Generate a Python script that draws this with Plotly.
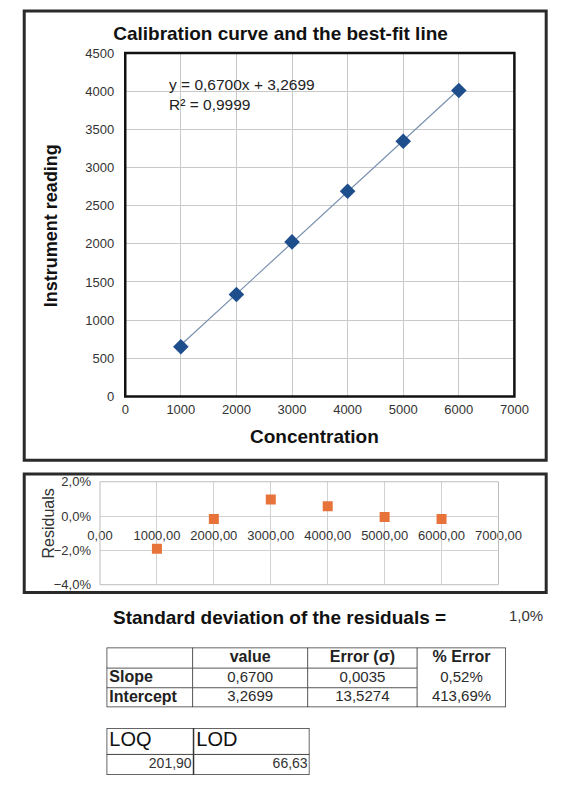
import plotly.graph_objects as go

# ---------------- data ----------------
concentration = [1000, 2000, 3000, 4000, 5000, 6000]
instrument_reading = [650, 1335, 2025, 2690, 3345, 4010]
residuals_pct = [-0.019, -0.0017, 0.0096, 0.0058, -0.0006, -0.0017]

fit_slope = 0.6700
fit_intercept = 3.2699
fit_r2 = 0.9999

param_names = ["Slope", "Intercept"]
param_values = ["0,6700", "3,2699"]
param_errors = ["0,0035", "13,5274"]
param_pct_errors = ["0,52%", "413,69%"]
table_headers = ["value", "Error (σ)", "% Error"]

limit_headers = ["LOQ", "LOD"]
limit_values = ["201,90", "66,63"]

residual_std_text = "1,0%"

W, H = 573, 785
FONT = "Liberation Sans, Arial, sans-serif"


def px_x(p):
    return p / W


def px_y(p):
    return 1 - p / H


fig = go.Figure()

# ---- main calibration scatter + trendline ----
line_x = [min(concentration), max(concentration)]
line_y = [fit_slope * v + fit_intercept for v in line_x]
fig.add_trace(go.Scatter(x=line_x, y=line_y, mode="lines",
                         line=dict(color="#7891ae", width=1.2),
                         xaxis="x", yaxis="y", showlegend=False, hoverinfo="skip"))
fig.add_trace(go.Scatter(x=concentration, y=instrument_reading, mode="markers",
                         marker=dict(symbol="diamond", size=12, color="#1F4E8C"),
                         xaxis="x", yaxis="y", showlegend=False))

# ---- residual plot ----
fig.add_trace(go.Scatter(x=concentration, y=residuals_pct, mode="markers",
                         marker=dict(symbol="square", size=10, color="#E8733A"),
                         xaxis="x2", yaxis="y2", showlegend=False))

# ---- parameter table (drawn on its own hidden axes, pixel-like units) ----
t1_cols = [0, 92, 215, 332, 427]
t1_rows = [0, 21, 41, 61]
col_centers = [(t1_cols[i] + t1_cols[i + 1]) / 2 for i in range(1, 4)]
row_centers = [(t1_rows[i] + t1_rows[i + 1]) / 2 for i in range(3)]

fig.add_trace(go.Scatter(
    x=col_centers, y=[row_centers[0]] * 3, mode="text",
    text=["<b>%s</b>" % h for h in table_headers], textposition="middle center",
    textfont=dict(family=FONT, size=16, color="#222"),
    xaxis="x3", yaxis="y3", showlegend=False, hoverinfo="skip", cliponaxis=False))
fig.add_trace(go.Scatter(
    x=[t1_cols[0] + 3] * 2, y=row_centers[1:], mode="text",
    text=["<b>%s</b>" % n for n in param_names], textposition="middle right",
    textfont=dict(family=FONT, size=16, color="#222"),
    xaxis="x3", yaxis="y3", showlegend=False, hoverinfo="skip", cliponaxis=False))
body_cols = [param_values, param_errors, param_pct_errors]
bx, by, bt = [], [], []
for ci, col in enumerate(body_cols):
    for ri, val in enumerate(col):
        bx.append(col_centers[ci])
        by.append(row_centers[ri + 1])
        bt.append(val)
fig.add_trace(go.Scatter(
    x=bx, y=by, mode="text", text=bt, textposition="middle center",
    textfont=dict(family=FONT, size=15, color="#2a2a2a"),
    xaxis="x3", yaxis="y3", showlegend=False, hoverinfo="skip", cliponaxis=False))

# ---- LOQ / LOD table ----
t2_cols = [0, 93, 217]
t2_rows = [0, 27, 48]
fig.add_trace(go.Scatter(
    x=[t2_cols[0] + 3, t2_cols[1] + 3], y=[(t2_rows[0] + t2_rows[1]) / 2] * 2,
    mode="text", text=limit_headers, textposition="middle right",
    textfont=dict(family=FONT, size=20, color="#111"),
    xaxis="x4", yaxis="y4", showlegend=False, hoverinfo="skip", cliponaxis=False))
fig.add_trace(go.Scatter(
    x=[t2_cols[1] - 2, t2_cols[2] - 2], y=[(t2_rows[1] + t2_rows[2]) / 2] * 2,
    mode="text", text=limit_values, textposition="middle left",
    textfont=dict(family=FONT, size=14, color="#333"),
    xaxis="x4", yaxis="y4", showlegend=False, hoverinfo="skip", cliponaxis=False))

grid_main = "#c9c9c9"
hidden = dict(visible=False, fixedrange=True)
fig.update_layout(
    width=W, height=H, autosize=False,
    margin=dict(l=0, r=0, t=0, b=0),
    paper_bgcolor="white", plot_bgcolor="white",
    separators=", ",
    font=dict(family=FONT, color="#222"),
    title=dict(text="<b>Calibration curve and the best-fit line</b>",
               x=px_x(286), y=px_y(27), xanchor="center", yanchor="middle",
               xref="paper", yref="paper",
               font=dict(family=FONT, size=19, color="#111")),
    xaxis=dict(domain=[px_x(120), px_x(536)], range=[0, 7000], dtick=1000,
               tickformat="d", showgrid=True, gridcolor=grid_main, zeroline=False,
               showline=False, tickfont=dict(size=13, color="#333"),
               ticklabelstandoff=4, fixedrange=True),
    yaxis=dict(domain=[px_y(397), px_y(47)], range=[0, 4500], dtick=500,
               tickformat="d", showgrid=True, gridcolor=grid_main, zeroline=False,
               showline=False, tickfont=dict(size=13, color="#333"),
               ticklabelstandoff=10, fixedrange=True),
    xaxis2=dict(domain=[px_x(93), px_x(519)], range=[0, 7000], dtick=1000,
                tickformat=".2f", anchor="free", position=px_y(519.5),
                showgrid=True, gridcolor="#d2d2d2", zeroline=False, showline=False,
                tickfont=dict(size=13, color="#333"), ticklabelstandoff=9,
                fixedrange=True),
    yaxis2=dict(domain=[px_y(589), px_y(484)], range=[-0.04, 0.02], dtick=0.02,
                tickformat=".1%", anchor="x2", showgrid=True, gridcolor="#d2d2d2",
                zeroline=False, showline=False,
                tickfont=dict(size=13, color="#333"), ticklabelstandoff=8,
                fixedrange=True),
    xaxis3=dict(domain=[px_x(100), px_x(527)], range=[t1_cols[0], t1_cols[-1]],
                anchor="y3", **hidden),
    yaxis3=dict(domain=[px_y(714), px_y(653)], range=[t1_rows[-1], t1_rows[0]],
                anchor="x3", **hidden),
    xaxis4=dict(domain=[px_x(100), px_x(317)], range=[t2_cols[0], t2_cols[-1]],
                anchor="y4", **hidden),
    yaxis4=dict(domain=[px_y(783), px_y(735)], range=[t2_rows[-1], t2_rows[0]],
                anchor="x4", **hidden),
)

shapes = []
# outer frames
shapes.append(dict(type="rect", xref="paper", yref="paper",
                   x0=px_x(12), x1=px_x(570), y0=px_y(462), y1=px_y(4),
                   line=dict(color="#2a2a2a", width=3)))
shapes.append(dict(type="rect", xref="paper", yref="paper",
                   x0=px_x(12), x1=px_x(570), y0=px_y(597), y1=px_y(476),
                   line=dict(color="#2a2a2a", width=3)))
# plot area borders
shapes.append(dict(type="rect", xref="x domain", yref="y domain",
                   x0=0, x1=1, y0=0, y1=1, line=dict(color="#111", width=2.5)))
shapes.append(dict(type="rect", xref="x2 domain", yref="y2 domain",
                   x0=0, x1=1, y0=0, y1=1, line=dict(color="#bdbdbd", width=1)))
# table 1 grid
for c in t1_cols[1:-1]:
    shapes.append(dict(type="line", xref="x3", yref="y3", x0=c, x1=c,
                       y0=t1_rows[0], y1=t1_rows[-1], line=dict(color="#555", width=1)))
for r in t1_rows[1:-1]:
    shapes.append(dict(type="line", xref="x3", yref="y3", x0=t1_cols[0], x1=t1_cols[3],
                       y0=r, y1=r, line=dict(color="#555", width=1)))
shapes.append(dict(type="rect", xref="x3", yref="y3", x0=t1_cols[0], x1=t1_cols[-1],
                   y0=t1_rows[0], y1=t1_rows[-1], line=dict(color="#333", width=1.5)))
# table 2 grid
shapes.append(dict(type="line", xref="x4", yref="y4", x0=t2_cols[1], x1=t2_cols[1],
                   y0=t2_rows[0], y1=t2_rows[-1], line=dict(color="#333", width=1.5)))
shapes.append(dict(type="line", xref="x4", yref="y4", x0=t2_cols[0], x1=t2_cols[-1],
                   y0=t2_rows[1], y1=t2_rows[1], line=dict(color="#444", width=1)))
shapes.append(dict(type="rect", xref="x4", yref="y4", x0=t2_cols[0], x1=t2_cols[-1],
                   y0=t2_rows[0], y1=t2_rows[-1], line=dict(color="#333", width=1.5)))
fig.update_layout(shapes=shapes)

eq_text = "y = %sx + %s<br>R² = %s" % (
    ("%.4f" % fit_slope).replace(".", ","),
    ("%.4f" % fit_intercept).replace(".", ","),
    ("%.4f" % fit_r2).replace(".", ","))

annotations = [
    dict(text=eq_text, x=px_x(165), y=px_y(68), xanchor="left", yanchor="top",
         align="left", showarrow=False, font=dict(size=15.5, color="#222")),
    dict(text="<b>Instrument reading</b>", x=px_x(40), y=px_y(223), textangle=-90,
         xanchor="center", yanchor="middle", showarrow=False,
         font=dict(size=18, color="#111")),
    dict(text="<b>Concentration</b>", x=px_x(322), y=px_y(438),
         xanchor="center", yanchor="middle", showarrow=False,
         font=dict(size=19, color="#111")),
    dict(text="Residuals", x=px_x(38), y=px_y(527), textangle=-90,
         xanchor="center", yanchor="middle", showarrow=False,
         font=dict(size=16, color="#333")),
    dict(text="<b>Standard deviation of the residuals =</b>", x=px_x(105), y=px_y(622),
         xanchor="left", yanchor="middle", showarrow=False,
         font=dict(size=19, color="#111")),
    dict(text=residual_std_text, x=px_x(548), y=px_y(620),
         xanchor="center", yanchor="middle", showarrow=False,
         font=dict(size=15, color="#333")),
]
for a in annotations:
    a["xref"] = "paper"
    a["yref"] = "paper"
fig.update_layout(annotations=annotations)

fig.write_html(
    "out.html",
    config={"displayModeBar": False},
    post_script="document.documentElement.style.margin='0';"
                "document.body.style.margin='0';"
                "document.body.style.overflow='hidden';",
)
